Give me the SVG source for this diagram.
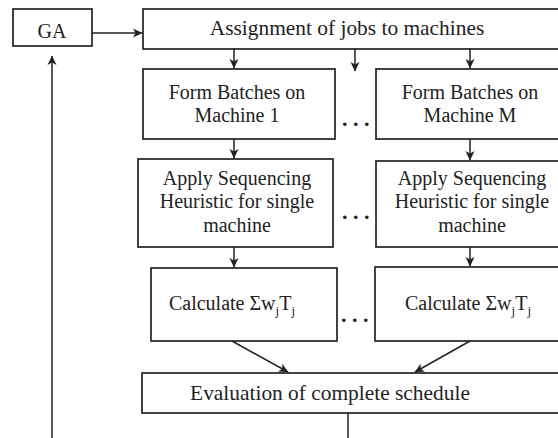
<svg xmlns="http://www.w3.org/2000/svg" width="558" height="438" viewBox="0 0 558 438">
<style>
.box{fill:#fff;stroke:#222;stroke-width:1.7}
.t{font-family:"Liberation Serif","Times New Roman",serif;font-size:20px;fill:#222;text-anchor:middle}
.tl{font-family:"Liberation Serif","Times New Roman",serif;font-size:21.4px;fill:#222;text-anchor:middle}
.c{stroke:#222;stroke-width:1.5;fill:none}
.dots{font-family:"Liberation Serif",serif;font-size:22px;font-weight:bold;fill:#222}
</style>
<defs>
<marker id="ah" markerWidth="10" markerHeight="10" refX="9" refY="5" orient="auto" markerUnits="userSpaceOnUse">
<path d="M0,0.5 L9.5,5 L0,9.5 L2.5,5 z" fill="#222"/>
</marker>
</defs>
<rect width="558" height="438" fill="#fff"/>
<g id="connectors">
<line class="c" x1="92" y1="33" x2="142" y2="33" marker-end="url(#ah)"/>
<line class="c" x1="234" y1="49" x2="234" y2="68" marker-end="url(#ah)"/>
<line class="c" x1="355" y1="49" x2="355" y2="71" marker-end="url(#ah)"/>
<line class="c" x1="470" y1="49" x2="470" y2="68" marker-end="url(#ah)"/>
<line class="c" x1="234" y1="139" x2="234" y2="158" marker-end="url(#ah)"/>
<line class="c" x1="470" y1="139" x2="470" y2="160" marker-end="url(#ah)"/>
<line class="c" x1="234" y1="247" x2="234" y2="267" marker-end="url(#ah)"/>
<line class="c" x1="470" y1="247" x2="470" y2="266" marker-end="url(#ah)"/>
<line class="c" x1="232" y1="341" x2="288" y2="372" marker-end="url(#ah)"/>
<line class="c" x1="470" y1="341" x2="415" y2="372" marker-end="url(#ah)"/>
<line class="c" x1="348" y1="413" x2="348" y2="438"/>
<line class="c" x1="52" y1="438" x2="52" y2="56" marker-end="url(#ah)"/>
</g>
<g id="ga">
<rect class="box" x="13" y="9" width="79" height="37"/>
<text class="t" x="52" y="38">GA</text>
</g>
<g id="assign">
<rect class="box" x="143" y="9" width="420" height="40"/>
<text class="tl" x="347" y="35">Assignment of jobs to machines</text>
</g>
<g id="form1">
<rect class="box" x="143" y="69" width="192" height="70"/>
<text class="t" x="237" y="99">Form Batches on</text>
<text class="t" x="237" y="122">Machine 1</text>
</g>
<g id="formM">
<rect class="box" x="376" y="69" width="190" height="70"/>
<text class="t" x="470" y="99">Form Batches on</text>
<text class="t" x="470" y="122">Machine M</text>
</g>
<g id="apply1">
<rect class="box" x="138" y="159" width="195" height="88"/>
<text class="t" x="237" y="185">Apply Sequencing</text>
<text class="t" x="237" y="208">Heuristic for single</text>
<text class="t" x="237" y="232">machine</text>
</g>
<g id="applyM">
<rect class="box" x="376" y="161" width="190" height="86"/>
<text class="t" x="472" y="185">Apply Sequencing</text>
<text class="t" x="472" y="208">Heuristic for single</text>
<text class="t" x="472" y="232">machine</text>
</g>
<g id="calc1">
<rect class="box" x="151" y="268" width="186" height="73"/>
<text class="t" x="232" y="310">Calculate Σw<tspan font-size="13" dy="5">j</tspan><tspan dy="-5">T</tspan><tspan font-size="13" dy="5">j</tspan></text>
</g>
<g id="calcM">
<rect class="box" x="375" y="267" width="190" height="74"/>
<text class="t" x="468" y="310">Calculate Σw<tspan font-size="13" dy="5">j</tspan><tspan dy="-5">T</tspan><tspan font-size="13" dy="5">j</tspan></text>
</g>
<g id="eval">
<rect class="box" x="142" y="373" width="421" height="40"/>
<text class="tl" x="330" y="400">Evaluation of complete schedule</text>
</g>
<g id="ellipses">
<text class="dots" x="342" y="126">. . .</text>
<text class="dots" x="342" y="219">. . .</text>
<text class="dots" x="341" y="322">. . .</text>
</g>
</svg>
